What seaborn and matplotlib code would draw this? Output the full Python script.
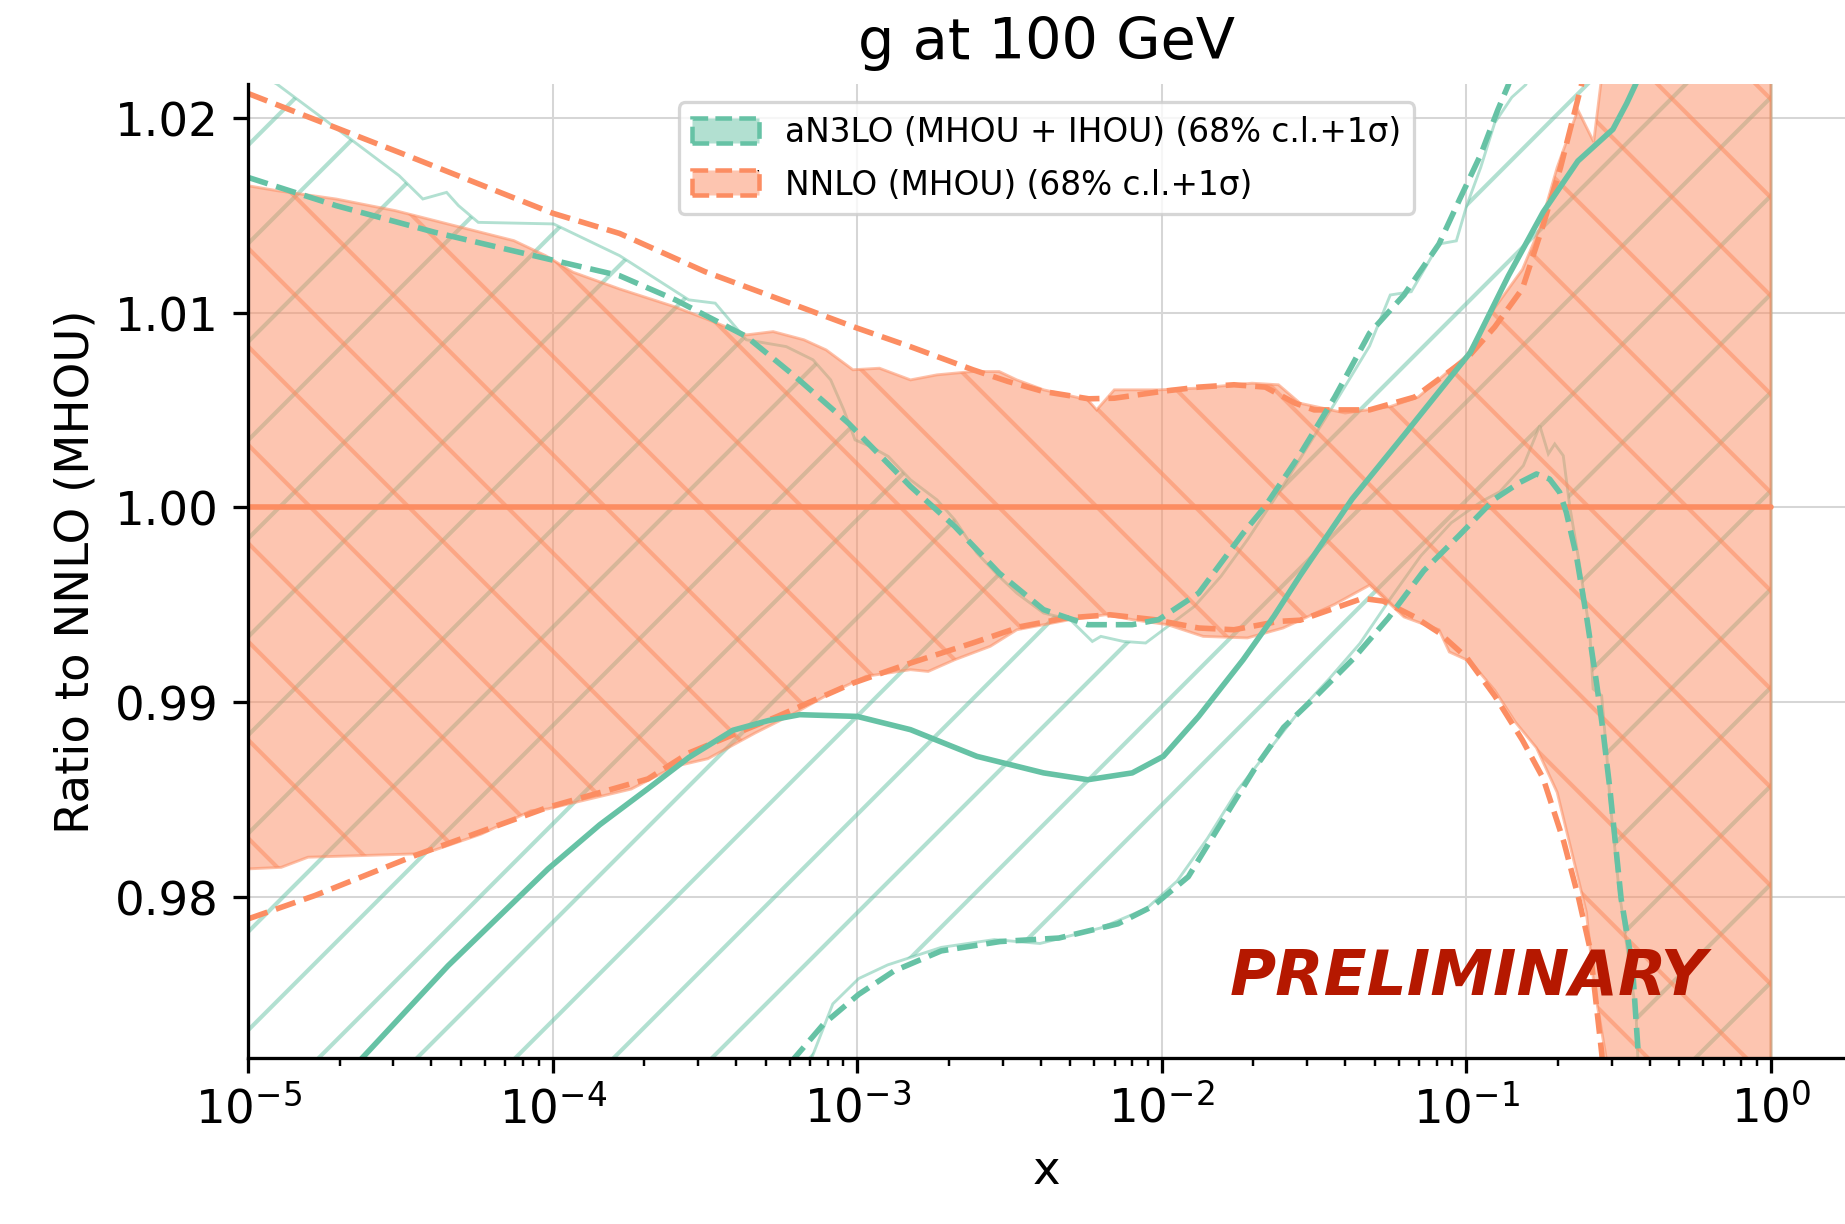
import numpy as np
import matplotlib
matplotlib.use("Agg")
import matplotlib.pyplot as plt
import matplotlib.patches as mpatches
from matplotlib.legend_handler import HandlerTuple
from matplotlib.ticker import FixedLocator, FormatStrFormatter
import seaborn as sns

# ---------------- data (log10(x) and ratio values) ----------------
nnlo_c_lx = [-5.0, 0.0]
nnlo_c = [1.0, 1.0]

nnlo_hi68_lx = [-5.0, -4.906, -4.711, -4.516, -4.322, -4.127, -4.023, -3.933, -3.78, -3.6, -3.5,
                -3.364, -3.276, -3.175, -3.102, -3.014, -2.927, -2.825, -2.738, -2.621, -2.534,
                -2.476, -2.388, -2.243, -2.214, -2.156, -2.01, -1.879, -1.704, -1.617, -1.546,
                -1.398, -1.25, -1.158, -0.999, -0.907, -0.816, -0.759, -0.702, -0.634, -0.582,
                -0.559, -0.5, -0.3, 0.0]
nnlo_hi68 = [1.01651, 1.01626, 1.01583, 1.01523, 1.01446, 1.01369, 1.01292, 1.01207, 1.01121, 1.0103,
             1.0097, 1.00885, 1.00902, 1.0086, 1.00808, 1.00706, 1.00714, 1.00654, 1.0068, 1.00697,
             1.00697, 1.00654, 1.00603, 1.00552, 1.005, 1.00603, 1.00603, 1.00612, 1.00637, 1.00629,
             1.00534, 1.00484, 1.00517, 1.00566, 1.00779, 1.01025, 1.01221, 1.01434, 1.01745, 1.0204,
             1.01876, 1.0217, 1.026, 1.035, 1.045]

nnlo_lo68_lx = [-5.0, -4.891, -4.803, -4.453, -4.387, -4.234, -4.07, -4.016, -3.742, -3.597, -3.49,
                -3.335, -3.204, -3.087, -2.971, -2.825, -2.767, -2.68, -2.563, -2.476, -2.388, -2.301,
                -2.185, -2.097, -1.981, -1.864, -1.719, -1.602, -1.546, -1.432, -1.318, -1.261, -1.205,
                -1.09, -1.056, -0.987, -0.907, -0.839, -0.77, -0.702, -0.656, -0.606, -0.581, -0.544,
                -0.45, -0.2, 0.0]
nnlo_lo68 = [0.98143, 0.98151, 0.98203, 0.9822, 0.9824, 0.98322, 0.98442, 0.98451, 0.98553, 0.9867,
             0.98709, 0.98841, 0.98944, 0.99046, 0.99132, 0.99166, 0.99157, 0.99217, 0.99286, 0.99371,
             0.99397, 0.99423, 0.99448, 0.99423, 0.99397, 0.99337, 0.99329, 0.9938, 0.9942, 0.99502,
             0.996, 0.99518, 0.99437, 0.99371, 0.99257, 0.99208, 0.9906, 0.98896, 0.98765, 0.98536,
             0.98241, 0.9792, 0.97544, 0.9720, 0.962, 0.95, 0.945]

nnlo_hi1s_lx = [-5.0, -4.5, -4.0, -3.78, -3.5, -3.234, -3.0, -2.826, -2.62, -2.505, -2.39, -2.24,
                -2.156, -2.0, -1.879, -1.763, -1.66, -1.563, -1.5, -1.386, -1.318, -1.17, -0.999,
                -0.907, -0.816, -0.748, -0.691, -0.622, -0.55, -0.3, 0.0]
nnlo_hi1s = [1.02125, 1.0182, 1.0151, 1.01406, 1.0121, 1.01056, 1.0092, 1.00825, 1.00706, 1.00646,
             1.00595, 1.00557, 1.0056, 1.00595, 1.00617, 1.00629, 1.00617, 1.00535, 1.0050, 1.0050,
             1.0050, 1.00566, 1.00763, 1.00926, 1.01123, 1.0145, 1.01745, 1.0217, 1.027, 1.04, 1.05]

nnlo_lo1s_lx = [-5.0, -4.781, -4.453, -4.016, -3.687, -3.553, -3.262, -3.014, -2.825, -2.621, -2.461,
                -2.316, -2.17, -2.025, -1.879, -1.763, -1.617, -1.546, -1.341, -1.273, -1.17, -1.09,
                -0.999, -0.907, -0.816, -0.748, -0.68, -0.631, -0.594, -0.556, -0.45, -0.2, 0.0]
nnlo_lo1s = [0.97886, 0.98006, 0.98211, 0.98459, 0.98605, 0.98738, 0.98926, 0.99097, 0.992, 0.99303,
             0.99388, 0.99431, 0.99448, 0.99423, 0.9938, 0.99371, 0.99414, 0.9942, 0.99532, 0.99518,
             0.99437, 0.99356, 0.99228, 0.99032, 0.98804, 0.98608, 0.98281, 0.97989, 0.97732, 0.9720,
             0.955, 0.94, 0.935]

an3lo_c_lx = [-5.0, -4.8, -4.628, -4.343, -4.015, -3.845, -3.687, -3.553, -3.408, -3.291, -3.189,
              -3.0, -2.825, -2.607, -2.388, -2.243, -2.097, -1.995, -1.879, -1.733, -1.632, -1.546,
              -1.375, -1.205, -0.987, -0.862, -0.748, -0.634, -0.519, -0.474, -0.445, -0.3, 0.0]
an3lo_c = [0.9654, 0.9688, 0.97167, 0.97646, 0.98143, 0.9837, 0.98555, 0.98715, 0.98855, 0.98905,
           0.98935, 0.98926, 0.98858, 0.98721, 0.98636, 0.98601, 0.98636, 0.98721, 0.98926, 0.99217,
           0.9944, 0.99649, 1.00043, 1.0037, 1.00795, 1.01189, 1.01516, 1.01778, 1.01941, 1.02073,
           1.0217, 1.027, 1.04]

an3lo_hi1s_lx = [-5.0, -4.711, -4.387, -4.062, -3.78, -3.597, -3.364, -3.204, -3.029, -2.825, -2.68,
                 -2.534, -2.388, -2.243, -2.097, -2.01, -1.879, -1.733, -1.661, -1.546, -1.432, -1.318,
                 -1.205, -1.09, -1.022, -0.953, -0.897, -0.862, -0.7, -0.3, 0.0]
an3lo_hi1s = [1.01694, 1.01549, 1.01412, 1.01292, 1.01189, 1.01065, 1.00877, 1.00672, 1.00432, 1.00107,
              0.99902, 0.99662, 0.99474, 0.99397, 0.99397, 0.99423, 0.99559, 0.99867, 1.00004, 1.00272,
              1.00566, 1.00894, 1.0109, 1.01352, 1.01582, 1.01811, 1.0204, 1.0217, 1.03, 1.05, 1.06]

an3lo_lo1s_lx = [-5.0, -4.0, -3.4, -3.207, -3.11, -2.995, -2.879, -2.724, -2.531, -2.338, -2.144,
                 -2.029, -1.913, -1.777, -1.69, -1.6, -1.5, -1.372, -1.256, -1.14, -1.024, -0.907,
                 -0.824, -0.77, -0.727, -0.694, -0.672, -0.639, -0.606, -0.573, -0.551, -0.529,
                 -0.492, -0.455, -0.436, -0.3, 0.0]
an3lo_lo1s = [0.93, 0.945, 0.965, 0.9717, 0.97347, 0.97499, 0.97619, 0.97722, 0.9777, 0.97788, 0.97861,
              0.97952, 0.98103, 0.9845, 0.9867, 0.9887, 0.9902, 0.99221, 0.99432, 0.99674, 0.99855,
              1.00043, 1.00128, 1.00171, 1.00145, 1.00077, 0.99974, 0.99751, 0.99443, 0.99101, 0.98845,
              0.98554, 0.97989, 0.97646, 0.9720, 0.93, 0.90]

an3lo_hi68_lx = [-5.0, -4.906, -4.737, -4.504, -4.426, -4.348, -4.309, -4.244, -3.997, -3.78, -3.553,
                 -3.466, -3.364, -3.233, -3.145, -3.087, -3.044, -3.007, -2.956, -2.898, -2.825,
                 -2.738, -2.68, -2.607, -2.534, -2.476, -2.388, -2.301, -2.228, -2.2, -2.126, -2.053,
                 -1.995, -1.893, -1.806, -1.719, -1.617, -1.562, -1.432, -1.318, -1.25, -1.181,
                 -1.09, -1.033, -0.999, -0.953, -0.907, -0.851, -0.805, -0.6, 0.0]
an3lo_hi68 = [1.0225, 1.02174, 1.01977, 1.01703, 1.01583, 1.01617, 1.01549, 1.01463, 1.01455, 1.01292,
              1.01065, 1.01048, 1.0086, 1.00825, 1.00757, 1.00654, 1.005, 1.00346, 1.00312, 1.00261,
              1.00141, 1.00038, 0.99936, 0.99765, 0.99645, 0.99559, 0.99457, 0.99423, 0.99311, 0.99337,
              0.99311, 0.99303, 0.99371, 0.99491, 0.99645, 0.99833, 1.00073, 1.0021, 1.00534, 1.00828,
              1.0109, 1.01107, 1.01352, 1.01368, 1.01549, 1.01745, 1.01974, 1.02105, 1.0217, 1.03, 1.05]

an3lo_lo68_lx = [-5.0, -4.0, -3.4, -3.15, -3.08, -2.995, -2.9, -2.724, -2.55, -2.4, -2.2, -2.05,
                 -1.95, -1.85, -1.75, -1.65, -1.55, -1.45, -1.35, -1.25, -1.15, -1.05, -0.95, -0.89,
                 -0.813, -0.759, -0.731, -0.71, -0.682, -0.661, -0.628, -0.595, -0.584, -0.556,
                 -0.539, -0.529, -0.5, -0.443, -0.433, -0.3, 0.0]
an3lo_lo68 = [0.93, 0.945, 0.962, 0.9717, 0.9745, 0.9758, 0.9765, 0.9774, 0.9778, 0.9776, 0.9784,
              0.9794, 0.9808, 0.983, 0.9855, 0.9875, 0.9895, 0.9912, 0.993, 0.9953, 0.9975, 0.9992,
              1.0003, 1.0008, 1.00214, 1.00419, 1.00274, 1.00325, 1.00265, 1.00008, 0.997, 0.99358,
              0.99067, 0.99033, 0.98725, 0.98502, 0.9805, 0.974, 0.970, 0.93, 0.90]

labels = ["aN3LO (MHOU + IHOU) (68% c.l.+1σ)", "NNLO (MHOU) (68% c.l.+1σ)"]
yticks = [0.98, 0.99, 1.00, 1.01, 1.02]
xticks = [1e-5, 1e-4, 1e-3, 1e-2, 1e-1, 1e0]

# ---------------- style ----------------
sns.set_style("ticks")
plt.rcParams["font.family"] = ["DejaVu Sans"]
plt.rcParams["hatch.linewidth"] = 0.5
plt.rcParams["axes.linewidth"] = 0.4
plt.rcParams["mathtext.fontset"] = "dejavusans"
for k in ("text.color", "axes.labelcolor", "xtick.color", "ytick.color", "axes.edgecolor"):
    plt.rcParams[k] = "black"

pal = sns.color_palette("Set2")
teal, orange = pal[0], pal[1]

DPI = 590
W, H = 1845, 1225
fig = plt.figure(figsize=(W / DPI, H / DPI), dpi=DPI)
ax = fig.add_axes([248 / W, (H - 1059) / H, (W - 248) / W, (1059 - 84.7) / H])


def X(lx):
    return 10.0 ** np.asarray(lx)


def band(lx_hi, y_hi, lx_lo, y_lo):
    xs = np.concatenate([X(lx_hi), X(lx_lo)[::-1]])
    ys = np.concatenate([np.asarray(y_hi), np.asarray(y_lo)[::-1]])
    return xs, ys


LW = 0.68
# aN3LO band (hatched only)
bx, by = band(an3lo_hi68_lx, an3lo_hi68, an3lo_lo68_lx, an3lo_lo68)
ax.fill(bx, by, facecolor="none", edgecolor=(*teal, 0.5), hatch="//", lw=0.35, zorder=1)

# NNLO band (filled + hatched)
bx, by = band(nnlo_hi68_lx, nnlo_hi68, nnlo_lo68_lx, nnlo_lo68)
ax.fill(bx, by, facecolor=(*orange, 0.5), edgecolor=(*orange, 0.55), hatch="\\\\", lw=0.35, zorder=1.1)

# lines
sns.lineplot(x=X(an3lo_c_lx), y=an3lo_c, ax=ax, color=teal, lw=LW, zorder=2.2)
sns.lineplot(x=X(an3lo_hi1s_lx), y=an3lo_hi1s, ax=ax, color=teal, lw=LW, linestyle="--", zorder=2.2)
sns.lineplot(x=X(an3lo_lo1s_lx), y=an3lo_lo1s, ax=ax, color=teal, lw=LW, linestyle="--", zorder=2.2)
sns.lineplot(x=X(nnlo_c_lx), y=nnlo_c, ax=ax, color=orange, lw=LW, zorder=2.1)
sns.lineplot(x=X(nnlo_hi1s_lx), y=nnlo_hi1s, ax=ax, color=orange, lw=LW, linestyle="--", zorder=2.1)
sns.lineplot(x=X(nnlo_lo1s_lx), y=nnlo_lo1s, ax=ax, color=orange, lw=LW, linestyle="--", zorder=2.1)

ax.set_xscale("log")
ax.set_xlim(1e-5, 10 ** ((W - 248) / 304.6 - 5))
ax.set_ylim(0.97172, 1.02175)
ax.xaxis.set_major_locator(FixedLocator(xticks))
ax.yaxis.set_major_locator(FixedLocator(yticks))
ax.yaxis.set_major_formatter(FormatStrFormatter("%.2f"))

ax.tick_params(which="major", length=1.8, width=0.4, labelsize=5.7, color="black")
ax.tick_params(axis="y", which="major", pad=1.8)
ax.tick_params(axis="x", which="major", pad=1.4)
ax.tick_params(which="minor", length=1.0, width=0.3, color="black")
ax.grid(True, which="major", color="#d6d6d6", lw=0.25)
sns.despine(ax=ax)
for s in ("left", "bottom"):
    ax.spines[s].set_linewidth(0.4)
    ax.spines[s].set_color("black")

ax.set_title("g at 100 GeV", fontsize=7.0, pad=3.1, color="black")
ax.set_ylabel("Ratio to NNLO (MHOU)", fontsize=5.7, labelpad=2.0)
ax.set_xlabel("x", fontsize=5.7, labelpad=2.0)

ax.text(0.6147, 0.0667, "PRELIMINARY", transform=ax.transAxes, fontsize=7.7,
        fontweight="bold", fontstyle="italic", color="#b51800", va="baseline", zorder=10)

# legend
h1 = mpatches.Patch(facecolor=(*teal, 0.5), edgecolor=teal, linestyle="--", lw=0.55)
h2 = (mpatches.Patch(facecolor=(*orange, 0.5), edgecolor=orange, linestyle="--", lw=0.55),
      mpatches.Patch(facecolor="none", edgecolor="black", lw=0, hatch="\\"))
leg = ax.legend([h1, h2], labels, handler_map={tuple: HandlerTuple(ndivide=1, pad=0)},
                loc="upper center", fontsize=4.0, handlelength=2.05, handleheight=0.8,
                labelspacing=0.6, borderaxespad=0.57, frameon=True, framealpha=0.8,
                edgecolor="0.8", fancybox=True)
leg.get_frame().set_linewidth(0.4)
leg.set_zorder(20)

fig.savefig("out.png", dpi=DPI)
